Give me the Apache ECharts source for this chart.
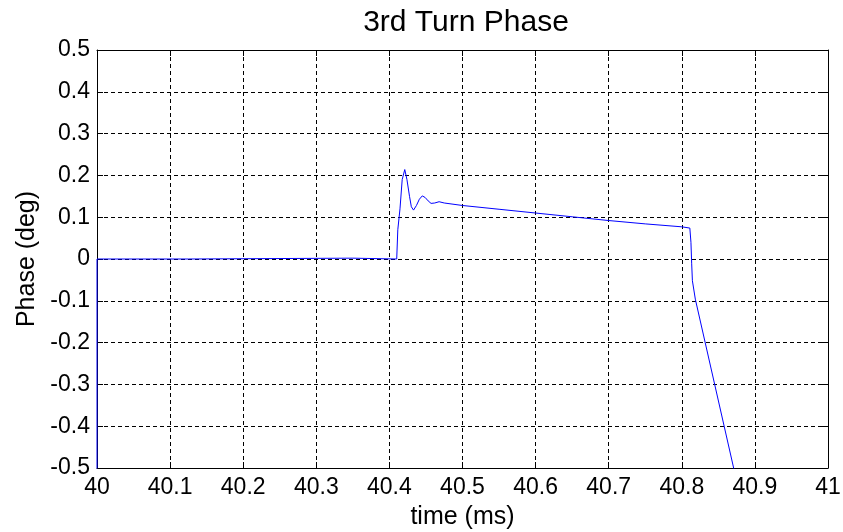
<!DOCTYPE html>
<html>
<head>
<meta charset="utf-8">
<script src="https://cdn.jsdelivr.net/npm/echarts@6/dist/echarts.min.js"></script>
<style>
html,body{margin:0;padding:0;background:#fff;}
#chart{width:843px;height:532px;}
</style>
</head>
<body>
<div id="chart"></div>
<script>
const chartTitle = '3rd Turn Phase';
const xAxisName = 'time (ms)';
const yAxisName = 'Phase (deg)';
const timeMs = [40, 40, 40.125, 40.125, 40.35, 40.35, 40.41, 40.4115, 40.4145, 40.4175, 40.421, 40.424, 40.4275, 40.430, 40.433, 40.437, 40.441, 40.445, 40.449, 40.453, 40.457, 40.462, 40.468, 40.475, 40.5, 40.55, 40.6, 40.65, 40.7, 40.75, 40.8, 40.811, 40.8125, 40.8135, 40.8145, 40.8185, 40.88];
const phaseDeg = [-1, 0, 0, 0.002, 0.002, 0, 0, 0.07, 0.12, 0.19, 0.214, 0.19, 0.15, 0.125, 0.117, 0.128, 0.143, 0.151, 0.147, 0.139, 0.133, 0.134, 0.137, 0.134, 0.128, 0.119, 0.110, 0.101, 0.092, 0.084, 0.077, 0.074, 0.04, -0.01, -0.052, -0.096, -0.57];
const xTickLabels = ['40', '40.1', '40.2', '40.3', '40.4', '40.5', '40.6', '40.7', '40.8', '40.9', '41'];
const yTickLabels = ['-0.5', '-0.4', '-0.3', '-0.2', '-0.1', '0', '0.1', '0.2', '0.3', '0.4', '0.5'];

const font = 'Liberation Sans, Arial, Helvetica, sans-serif';
const xMin = 40, xMax = 41, xStep = 0.1;
const yMin = -0.5, yMax = 0.5, yStep = 0.1;
const xLabel = v => xTickLabels[Math.round((v - xMin) / xStep)] ?? '';
const yLabel = v => yTickLabels[Math.round((v - yMin) / yStep)] ?? '';

const gridLine = { show: true, lineStyle: { color: '#000', width: 1, type: [4, 3] } };
const axLine = { show: true, onZero: false, lineStyle: { color: '#000', width: 1 } };
const axTick = { show: true, inside: true, length: 6, lineStyle: { color: '#000', width: 1 } };

const chart = echarts.init(document.getElementById('chart'));
chart.setOption({
  animation: false,
  backgroundColor: '#fff',
  title: {
    text: chartTitle, left: 461, top: 3, textAlign: 'center',
    textStyle: { fontFamily: font, fontSize: 30, fontWeight: 'normal', color: '#000' }
  },
  grid: { left: 97, right: 15, top: 50, bottom: 64, containLabel: false, outerBoundsMode: 'none' },
  xAxis: [{
    type: 'value', min: xMin, max: xMax, interval: xStep, position: 'bottom',
    name: xAxisName, nameLocation: 'middle', nameGap: 37,
    nameTextStyle: { fontFamily: font, fontSize: 25, color: '#000' },
    axisLine: axLine, axisTick: axTick, splitLine: gridLine,
    axisLabel: { formatter: xLabel, fontFamily: font, fontSize: 23, color: '#000', margin: 8, showMinLabel: true, showMaxLabel: true }
  }, {
    type: 'value', min: xMin, max: xMax, interval: xStep, position: 'top',
    axisLine: axLine, axisTick: axTick, splitLine: { show: false }, axisLabel: { show: false }
  }],
  yAxis: [{
    type: 'value', min: yMin, max: yMax, interval: yStep, position: 'left',
    name: yAxisName, nameLocation: 'middle', nameGap: 56,
    nameTextStyle: { fontFamily: font, fontSize: 25, color: '#000' },
    axisLine: axLine, axisTick: axTick, splitLine: gridLine,
    axisLabel: { formatter: yLabel, fontFamily: font, fontSize: 23, color: '#000', margin: 7, showMinLabel: true, showMaxLabel: true }
  }, {
    type: 'value', min: yMin, max: yMax, interval: yStep, position: 'right',
    axisLine: axLine, axisTick: axTick, splitLine: { show: false }, axisLabel: { show: false }
  }],
  series: [{
    type: 'line', xAxisIndex: 0, yAxisIndex: 0, showSymbol: false, silent: true, clip: true,
    lineStyle: { color: '#0000ff', width: 1 },
    data: timeMs.map((t, i) => [t, phaseDeg[i]])
  }]
});
</script>
</body>
</html>
